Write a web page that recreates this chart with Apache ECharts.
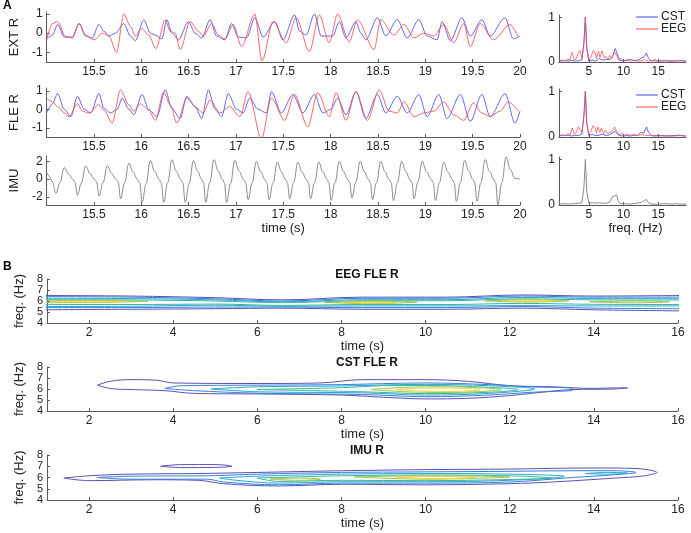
<!DOCTYPE html>
<html><head><meta charset="utf-8">
<script src="https://cdn.jsdelivr.net/npm/echarts@6/dist/echarts.min.js"></script>
<style>html,body{margin:0;padding:0;background:#fff}#c{width:691px;height:533px}</style>
</head><body><div id="c"></div>
<script>
// ---------- DATA ----------
const timeTicks = [15.5,16,16.5,17,17.5,18,18.5,19,19.5,20];
const extTicks = [-1,0,1];
const imuTicks = [-2,0,2];
const specXTicks = [5,10,15];
const specYTicks = [0,1];
const bTimeTicks = [2,4,6,8,10,12,14,16];
const bFreqTicks = [4,5,6,7,8];

const EXT_EEG = [[15.000,-0.35],[15.063,0.5],[15.116,0.6],[15.203,-0.2],[15.273,-0.25],[15.343,0.5],[15.413,-0.1],[15.501,-0.35],[15.588,0],[15.659,-0.15],[15.739,-1.0],[15.816,1.0],[15.886,0.35],[15.938,-0.15],[16.001,0.25],[16.079,-0.1],[16.155,-0.8],[16.253,0.7],[16.306,0.1],[16.358,0],[16.411,-0.85],[16.516,0.6],[16.604,0.1],[16.656,-0.15],[16.744,0.5],[16.814,-0.1],[16.883,-0.3],[16.972,0.45],[17.059,-0.7],[17.199,1.0],[17.275,-1.45],[17.392,0.6],[17.531,-0.5],[17.636,0.8],[17.776,-0.95],[17.881,0.95],[17.986,-0.5],[18.074,1.0],[18.196,-0.45],[18.284,0.7],[18.459,-0.85],[18.529,0.7],[18.669,-0.1],[18.774,0.45],[18.880,-0.25],[18.984,0],[19.089,-0.15],[19.195,0.45],[19.300,-0.5],[19.405,0.5],[19.475,-0.7],[19.580,0.5],[19.720,-0.35],[19.894,0.45],[19.981,-0.2]];
const EXT_CST = [[15.000,-0.3],[15.063,-0.1],[15.116,0.45],[15.186,-0.2],[15.273,-0.2],[15.343,0.5],[15.413,-0.15],[15.483,-0.25],[15.553,0.45],[15.606,0.1],[15.659,-0.15],[15.728,0],[15.816,0.5],[15.886,-0.15],[15.938,-0.4],[16.026,0.7],[16.096,0],[16.148,-0.1],[16.218,-0.3],[16.270,0.7],[16.323,0],[16.393,-0.35],[16.498,0.6],[16.568,0],[16.639,-0.25],[16.726,0.7],[16.796,-0.15],[16.883,-0.35],[16.954,0.5],[17.024,-0.2],[17.112,-0.25],[17.199,0.8],[17.287,-0.2],[17.409,0.6],[17.497,-0.35],[17.619,0.95],[17.672,0.1],[17.742,-0.1],[17.829,1.0],[17.899,-0.15],[18.022,-0.15],[18.092,0.6],[18.162,-0.25],[18.267,0.6],[18.319,0],[18.372,-0.35],[18.494,0.8],[18.582,-0.15],[18.704,0.7],[18.809,-0.25],[18.932,0.7],[19.019,-0.15],[19.124,-0.35],[19.177,0.6],[19.265,-0.4],[19.387,0.8],[19.475,-0.15],[19.598,0.7],[19.685,-0.15],[19.843,0.8],[19.930,-0.3],[20.000,-0.15]];
const FLE_EEG = [[15.000,0.6],[15.063,0.4],[15.116,0.15],[15.186,-0.2],[15.238,-0.4],[15.326,0.3],[15.378,-0.1],[15.448,-0.2],[15.553,0.25],[15.606,-0.05],[15.693,-0.75],[15.781,1.05],[15.868,0.25],[15.921,-0.1],[15.991,0.3],[16.078,-0.05],[16.148,-0.6],[16.236,0.9],[16.306,0.25],[16.376,-0.75],[16.481,0.6],[16.586,0.05],[16.656,-0.2],[16.726,0.5],[16.831,-0.2],[16.936,0.15],[17.041,-0.4],[17.129,0.95],[17.269,-1.6],[17.374,0.6],[17.514,-0.6],[17.619,0.8],[17.759,-0.95],[17.864,0.9],[17.987,-0.4],[18.057,0.9],[18.162,-0.6],[18.267,0.95],[18.390,-0.6],[18.512,1.05],[18.617,-0.1],[18.704,-0.2],[18.775,0.4],[18.880,-0.4],[18.985,-0.2],[19.089,-0.1],[19.195,0.4],[19.300,-0.3],[19.405,-0.6],[19.510,0.35],[19.598,-0.2],[19.685,-0.4],[19.790,-0.1],[19.877,0.4],[19.982,-0.1]];
const FLE_CST = [[15.000,-0.2],[15.063,0.3],[15.116,0.85],[15.186,0],[15.256,-0.4],[15.326,0.7],[15.396,0],[15.466,-0.2],[15.553,0.85],[15.606,0.05],[15.676,-0.2],[15.746,0],[15.799,0.6],[15.869,0],[15.921,-0.3],[16.009,0.8],[16.078,0],[16.166,-0.4],[16.253,1.05],[16.323,0.05],[16.411,-0.5],[16.481,0.7],[16.569,0.15],[16.639,-0.5],[16.709,1.05],[16.779,0],[16.849,-0.4],[16.919,0.85],[17.006,0],[17.076,-0.2],[17.146,0.6],[17.234,0],[17.322,-0.2],[17.374,0.95],[17.479,-0.2],[17.602,0.8],[17.707,-0.2],[17.829,0.8],[17.917,-0.2],[18.004,0],[18.074,0.6],[18.162,-0.3],[18.267,0.95],[18.372,-0.5],[18.494,0.8],[18.582,-0.2],[18.704,0.7],[18.809,-0.2],[18.932,0.8],[19.019,-0.4],[19.142,0.8],[19.230,-0.5],[19.370,0.8],[19.475,-0.65],[19.598,0.8],[19.685,-0.4],[19.843,0.85],[19.947,-0.75],[20.000,-0.1]];
const IMU_SIG = [[15.000,0.8],[15.030,0.3],[15.060,-0.3],
[15.099,-1.6],[15.141,-0.4],[15.186,1.3],[15.231,0.6],[15.276,0.0],[15.300,-0.3],
[15.326,-1.8],[15.368,-0.4],[15.413,1.5],[15.458,0.65],[15.503,0.0],[15.528,-0.3],
[15.554,-1.9],[15.596,-0.4],[15.641,1.5],[15.686,0.65],[15.731,0.0],[15.756,-0.3],
[15.782,-2.2],[15.824,-0.4],[15.869,1.8],[15.914,0.8],[15.959,0.0],[15.984,-0.4],
[16.009,-2.6],[16.051,-0.5],[16.096,2.1],[16.141,0.9],[16.186,0.0],[16.211,-0.4],
[16.237,-2.6],[16.279,-0.4],[16.324,2.2],[16.369,0.9],[16.414,0.0],[16.439,-0.4],
[16.464,-2.6],[16.506,-0.5],[16.551,2.1],[16.596,0.9],[16.636,0.0],[16.658,-0.4],
[16.681,-2.6],[16.723,-0.4],[16.768,2.2],[16.813,0.9],[16.856,0.0],[16.878,-0.4],
[16.901,-2.6],[16.943,-0.5],[16.988,2.1],[17.033,0.9],[17.078,0.0],[17.103,-0.4],
[17.129,-2.3],[17.171,-0.4],[17.216,2.0],[17.261,0.85],[17.304,0.0],[17.326,-0.4],
[17.350,-2.3],[17.392,-0.4],[17.437,1.9],[17.482,0.8],[17.522,0.0],[17.544,-0.4],
[17.567,-2.2],[17.609,-0.4],[17.654,1.9],[17.699,0.8],[17.742,0.0],[17.765,-0.4],
[17.788,-2.2],[17.830,-0.4],[17.875,1.9],[17.920,0.8],[17.960,0.0],[17.982,-0.4],
[18.004,-2.4],[18.046,-0.4],[18.091,2.0],[18.136,0.85],[18.180,0.0],[18.202,-0.4],
[18.225,-2.1],[18.267,-0.3],[18.312,2.0],[18.357,0.85],[18.398,0.0],[18.420,-0.4],
[18.442,-2.3],[18.484,-0.4],[18.529,2.0],[18.574,0.85],[18.618,0.0],[18.640,-0.4],
[18.663,-2.4],[18.705,-0.4],[18.750,2.0],[18.795,0.85],[18.836,0.0],[18.858,-0.4],
[18.880,-2.2],[18.922,-0.3],[18.967,2.0],[19.012,0.85],[19.060,0.0],[19.084,-0.4],
[19.107,-2.4],[19.149,-0.4],[19.194,1.9],[19.239,0.8],[19.282,0.0],[19.305,-0.4],
[19.328,-2.5],[19.370,-0.4],[19.415,2.1],[19.460,0.9],[19.500,0.0],[19.522,-0.4],
[19.545,-2.5],[19.587,-0.4],[19.632,2.2],[19.677,0.9],[19.720,0.0],[19.743,-0.4],
[19.766,-2.9],[19.808,-0.4],[19.853,2.5],[19.898,1.1],[19.945,0.1],[20.000,0.0]];

const SPEC_EXT_EEG = [[0.8,0.03],[1.2,0.04],[1.6,0.03],[2.0,0.06],[2.3,0.05],[2.6,0.22],[2.9,0.05],[3.2,0.08],[3.5,0.2],[3.75,0.26],[4.0,0.08],[4.3,0.4],[4.5,1.0],[4.7,0.35],[5.0,0.05],[5.3,0.1],[5.6,0.25],[5.9,0.22],[6.1,0.08],[6.4,0.24],[6.6,0.1],[6.9,0.25],[7.2,0.1],[7.5,0.12],[7.8,0.06],[8.0,0.15],[8.3,0.08],[8.7,0.22],[9.0,0.15],[9.3,0.05],[9.6,0.08],[10,0.03],[10.5,0.05],[11,0.02],[11.5,0.04],[12,0.02],[12.5,0.03],[13,0.05],[13.5,0.02],[14,0.03],[15,0.02],[16,0.03],[17,0.02],[18,0.03],[19,0.02]];
const SPEC_EXT_CST = [[0.8,0.02],[1.5,0.03],[2,0.02],[2.5,0.04],[3,0.02],[3.5,0.03],[4.0,0.05],[4.3,0.45],[4.5,1.0],[4.7,0.3],[5.0,0.02],[5.5,0.04],[6,0.02],[6.5,0.08],[7,0.04],[7.5,0.06],[8,0.05],[8.4,0.12],[8.8,0.3],[9.1,0.18],[9.4,0.04],[10,0.02],[10.5,0.04],[11,0.06],[11.5,0.03],[12,0.04],[12.5,0.08],[13.0,0.12],[13.3,0.2],[13.6,0.08],[14,0.02],[14.5,0.05],[15,0.02],[16,0.03],[17,0.02],[18,0.03],[19,0.02]];
const SPEC_FLE_EEG = [[0.8,0.03],[1.2,0.05],[1.6,0.03],[2.0,0.07],[2.3,0.04],[2.6,0.2],[2.9,0.06],[3.2,0.1],[3.5,0.22],[3.75,0.25],[4.0,0.1],[4.3,0.45],[4.5,1.0],[4.7,0.3],[5.0,0.06],[5.3,0.12],[5.6,0.25],[5.9,0.2],[6.1,0.08],[6.3,0.22],[6.6,0.1],[6.8,0.2],[7.1,0.08],[7.4,0.15],[7.7,0.08],[8.0,0.1],[8.3,0.12],[8.7,0.22],[9.0,0.12],[9.4,0.05],[9.8,0.08],[10.2,0.04],[10.6,0.06],[11,0.04],[11.5,0.05],[12,0.03],[12.5,0.05],[13,0.04],[13.5,0.03],[14,0.04],[15,0.02],[16,0.03],[17,0.02],[18,0.03],[19,0.02]];
const SPEC_FLE_CST = [[0.8,0.03],[1.5,0.03],[2,0.04],[2.5,0.02],[3,0.04],[3.5,0.03],[4.0,0.06],[4.3,0.5],[4.5,1.0],[4.7,0.3],[5.0,0.03],[5.5,0.06],[6,0.03],[6.5,0.04],[7,0.06],[7.5,0.03],[8,0.05],[8.5,0.1],[8.8,0.12],[9.2,0.05],[9.6,0.03],[10,0.02],[10.5,0.03],[11,0.02],[11.5,0.04],[12,0.03],[12.5,0.1],[12.9,0.08],[13.3,0.22],[13.6,0.1],[14,0.03],[14.5,0.02],[15,0.04],[16,0.02],[17,0.03],[18,0.04],[19,0.02]];
const SPEC_IMU = [[0.8,0.02],[1.5,0.03],[2,0.02],[2.5,0.03],[3,0.03],[3.5,0.04],[4.0,0.05],[4.3,0.4],[4.5,1.0],[4.7,0.3],[5.0,0.04],[5.5,0.05],[6,0.04],[6.5,0.05],[7,0.04],[7.5,0.04],[8,0.06],[8.4,0.18],[8.7,0.2],[9.0,0.22],[9.2,0.1],[9.5,0.03],[10,0.03],[11,0.02],[12,0.04],[12.6,0.06],[13,0.1],[13.3,0.12],[13.6,0.05],[14,0.02],[15,0.02],[16,0.03],[17,0.02],[17.5,0.03],[18,0.02],[19,0.02]];

// contour lines: [level, [[time, freq], ...]]
const EEG_CONTOURS = [
 [0, [[0.9,6.5],[3,6.45],[5,6.3],[6.6,6.1],[8.5,6.35],[10.5,6.35],[12.3,6.55],[14,6.45],[16.1,6.5],[16.1,5.1],[14,5.2],[12.3,5.35],[10.5,5.25],[8.5,5.25],[6.6,5.35],[5,5.3],[3,5.25],[0.9,5.2],[0.9,6.5]]],
 [1, [[0.9,6.4],[3,6.35],[5,6.2],[6.6,6.0],[8.5,6.25],[10.5,6.25],[12.3,6.45],[14,6.35],[16.1,6.35],[16.1,5.3],[14,5.35],[12.3,5.5],[10.5,5.4],[8.5,5.4],[6.6,5.45],[5,5.45],[3,5.4],[0.9,5.4],[0.9,6.4]]],
 [2, [[0.9,6.25],[3,6.22],[5,6.1],[6.6,5.92],[8.5,6.12],[10.5,6.12],[12.3,6.32],[14,6.22],[16.1,6.2],[16.1,5.55],[14,5.55],[12.3,5.58],[10.5,5.55],[8.5,5.55],[6.6,5.52],[5,5.62],[3,5.52],[0.9,5.5],[0.9,6.25]]],
 [3, [[0.9,6.12],[3,6.1],[5,6.0],[6.6,5.85],[8.5,6.02],[10.5,6.02],[12.3,6.2],[14,6.1],[16.1,6.08],[16.1,5.68],[14,5.7],[12.3,5.78],[10.5,5.68],[8.5,5.68],[6.6,5.6],[5,5.72],[3,5.68],[0.9,5.7],[0.9,6.12]]],
 [4, [[0.9,6.02],[2,6.03],[3.4,5.98],[2,5.86],[0.9,5.85],[0.9,6.02]]],
 [4, [[7.6,5.88],[8.6,5.95],[9.8,5.9],[8.6,5.76],[7.6,5.88]]],
 [4, [[11.4,6.02],[12.4,6.1],[13.4,6.02],[12.4,5.9],[11.4,6.02]]],
 [4, [[13.9,5.93],[14.9,5.99],[15.8,5.93],[14.9,5.83],[13.9,5.93]]],
 [5, [[1.1,5.96],[2,5.99],[2.8,5.95],[2,5.9],[1.1,5.96]]],
 [5, [[8.1,5.87],[8.7,5.91],[9.3,5.86],[8.7,5.81],[8.1,5.87]]],
 [5, [[12.0,6.02],[12.5,6.06],[13.0,6.01],[12.5,5.96],[12.0,6.02]]]
];
const CST_CONTOURS = [
 [0, [[2.2,6.35],[2.5,6.7],[3,6.85],[3.6,6.8],[4,6.55],[6,6.5],[7.5,6.55],[8.5,6.85],[10,6.85],[11,6.7],[12,6.3],[13,6.2],[14,6.05],[14.5,6.1],[14.8,6.1],[14.5,6.0],[13.5,5.95],[12.5,5.6],[12,5.4],[11,5.15],[10,5.1],[9,5.25],[8,5.45],[6,5.55],[4.5,5.6],[3.8,5.85],[3,5.95],[2.5,6.05],[2.2,6.35]]],
 [1, [[3.8,6.05],[4.2,6.3],[6,6.35],[8,6.4],[10,6.55],[11.5,6.4],[12.5,6.2],[13.5,6.05],[13.5,5.9],[12.5,5.7],[11.5,5.45],[10,5.3],[8.5,5.5],[6,5.62],[4.5,5.85],[3.8,6.05]]],
 [2, [[4.9,6.0],[6,6.2],[8,6.28],[10,6.42],[11.5,6.3],[12.6,6.0],[11.5,5.6],[10,5.45],[8.5,5.65],[6,5.75],[4.9,6.0]]],
 [3, [[6,5.95],[8,6.12],[9,6.3],[10,6.32],[11.5,6.15],[12.2,5.95],[11.5,5.7],[10,5.58],[8.5,5.75],[6,5.95]]],
 [4, [[8.7,5.95],[9.5,6.15],[10.5,6.2],[11.8,5.95],[10.5,5.68],[9.5,5.75],[8.7,5.95]]],
 [5, [[9.3,5.95],[10,6.08],[10.7,6.08],[11.3,5.95],[10.7,5.78],[10,5.8],[9.3,5.95]]]
];
const IMU_CONTOURS = [
 [0, [[1.4,5.95],[2,6.15],[3,6.3],[4.5,6.35],[6,6.45],[8,6.6],[10,6.7],[12,6.75],[14,6.85],[15,6.8],[15.5,6.45],[15.2,6.15],[14.5,5.95],[13,5.6],[12,5.45],[10,5.35],[8,5.4],[6.5,5.25],[5.2,5.45],[4.6,5.75],[3.5,5.8],[2,5.72],[1.4,5.95]]],
 [0, [[3.7,7.0],[4.2,7.15],[5.0,7.15],[5.4,7.0],[5.0,6.9],[4.2,6.88],[3.7,7.0]]],
 [1, [[2.2,6.0],[3,6.12],[4.8,6.15],[6,6.3],[8,6.45],[10,6.5],[12,6.55],[13.5,6.6],[14.5,6.6],[15,6.45],[14.5,6.25],[13.5,6.0],[12,5.6],[10,5.5],[8,5.5],[6.5,5.35],[5.2,5.6],[4.8,5.85],[3,5.85],[2.2,6.0]]],
 [2, [[5.1,5.95],[6,6.12],[8,6.3],[10,6.35],[12,6.3],[13.3,6.1],[12,5.75],[10,5.62],[8,5.62],[6.5,5.5],[5.5,5.75],[5.1,5.95]]],
 [2, [[13.8,6.35],[14.3,6.45],[14.8,6.4],[14.3,6.3],[13.8,6.35]]],
 [3, [[6,5.95],[8,6.15],[10,6.22],[12,6.15],[13,5.95],[12,5.82],[10,5.72],[8,5.75],[6.5,5.65],[6,5.95]]],
 [4, [[6.3,5.85],[7,5.95],[7.5,5.85],[7,5.75],[6.3,5.85]]],
 [4, [[8.3,6.05],[10,6.15],[12,6.05],[10,5.85],[8.3,6.05]]],
 [5, [[9.3,6.0],[10.2,6.1],[11.2,6.0],[10.2,5.9],[9.3,6.0]]]
];

// ---------- STYLE ----------
const LEVEL_COLORS = ['#5752b5','#3a7fd8','#25a8d4','#35b79c','#a0c548','#f2d438'];
const BLUE = '#4b4bef', RED = '#f04f4f', GRAY = '#8c8c8c';
const FONT = 'Liberation Sans, Arial, sans-serif';
const AX = '#5a5a5a', TXT = '#222';

function xAx(gi, min, max, ticks, name, gap, pad) {
  return { type:'value', gridIndex: gi, min, max,
    axisLine:{show:true, onZero:false, lineStyle:{color:AX,width:1}},
    axisTick:{show:true, inside:true, length:3, interval:0, customValues:ticks, lineStyle:{color:AX}},
    axisLabel:{customValues:ticks, interval:0, showMinLabel:true, showMaxLabel:true, color:TXT, fontSize:12, fontFamily:FONT, margin:4, hideOverlap:false},
    splitLine:{show:false},
    name: name || '', nameLocation:'middle', nameGap: gap || 16,
    nameTextStyle:{color:TXT, fontSize:13, fontFamily:FONT, padding: pad || 0}
  };
}
function yAx(gi, min, max, ticks, name, gap, fs) {
  return { type:'value', gridIndex: gi, min, max,
    axisLine:{show:true, onZero:false, lineStyle:{color:AX,width:1}},
    axisTick:{show:true, inside:true, length:3, interval:0, customValues:ticks, lineStyle:{color:AX}},
    axisLabel:{customValues:ticks, interval:0, showMinLabel:true, showMaxLabel:true, color:TXT, fontSize:fs || 12, lineHeight: fs || 12, fontFamily:FONT, margin:4, hideOverlap:false},
    splitLine:{show:false},
    name: name || '', nameLocation:'middle', nameGap: gap || 24, nameRotate:90,
    nameTextStyle:{color:TXT, fontSize:13, fontFamily:FONT}
  };
}
function lineS(name, gi, data, color, smooth, opacity) {
  return { type:'line', name, xAxisIndex:gi, yAxisIndex:gi, data, symbol:'none',
    smooth: smooth || false, smoothMonotone: smooth ? 'x' : undefined,
    lineStyle:{color, width:1, opacity: opacity || 1}, itemStyle:{color}, clip:true, silent:true };
}
function contourSeries(gi, list) {
  return list.map(([lv, pts]) => ({ type:'line', xAxisIndex:gi, yAxisIndex:gi, data: pts,
    symbol:'none', smooth:0.35, lineStyle:{color:LEVEL_COLORS[lv], width:1}, clip:true, silent:true }));
}

const grids = [
  {left:44, top:12, width:476, height:50},
  {left:44, top:88, width:476, height:49},
  {left:44, top:156, width:476, height:49},
  {left:559, top:15, width:127, height:47},
  {left:559, top:89, width:127, height:48},
  {left:559, top:157, width:127, height:48},
  {left:47, top:279, width:631, height:44},
  {left:47, top:367, width:631, height:44},
  {left:47, top:455, width:631, height:45}
];

const option = {
  animation:false,
  backgroundColor:'#fff',
  textStyle:{fontFamily:FONT},
  grid: grids.map(g => Object.assign({containLabel:false}, g)),
  xAxis: [
    xAx(0,15,20,timeTicks), xAx(1,15,20,timeTicks), xAx(2,15,20,timeTicks,'time (s)',16),
    xAx(3,0.7,19,specXTicks), xAx(4,0.7,19,specXTicks), xAx(5,0.7,19,specXTicks,'freq. (Hz)',16,[0,0,0,26]),
    xAx(6,1,16,bTimeTicks,'time (s)',16), xAx(7,1,16,bTimeTicks,'time (s)',16), xAx(8,1,16,bTimeTicks,'time (s)',16)
  ],
  yAxis: [
    yAx(0,-1.5,1.1,extTicks,'EXT R',16), yAx(1,-1.5,1.15,extTicks,'FLE R',16), yAx(2,-2.9,2.6,imuTicks,'IMU',16),
    yAx(3,0,1.05,specYTicks), yAx(4,0,1.05,specYTicks), yAx(5,0,1.05,specYTicks),
    yAx(6,4,8,bFreqTicks,'freq. (Hz)',14,11), yAx(7,4,8,bFreqTicks,'freq. (Hz)',14,11), yAx(8,4,8,bFreqTicks,'freq. (Hz)',14,11)
  ],
  legend: [
    {left:631, top:6, orient:'vertical', itemGap:0, itemWidth:22, itemHeight:1, icon:'rect',
     textStyle:{color:TXT, fontSize:12, fontFamily:FONT, lineHeight:11, padding:[0,0,0,-2]}, data:['CST','EEG'], selectedMode:false},
    {left:631, top:84, orient:'vertical', itemGap:0, itemWidth:22, itemHeight:1, icon:'rect',
     textStyle:{color:TXT, fontSize:12, fontFamily:FONT, lineHeight:11, padding:[0,0,0,-2]}, data:['CST','EEG'], selectedMode:false}
  ],
  title: [
    {text:'EEG FLE R', left:362, top:264, textAlign:'center', textStyle:{fontSize:12, fontWeight:'bold', color:'#111', fontFamily:FONT}},
    {text:'CST FLE R', left:362, top:352, textAlign:'center', textStyle:{fontSize:12, fontWeight:'bold', color:'#111', fontFamily:FONT}},
    {text:'IMU R', left:362, top:440, textAlign:'center', textStyle:{fontSize:12, fontWeight:'bold', color:'#111', fontFamily:FONT}}
  ],
  graphic: [
    {type:'text', left:3, top:0, style:{text:'A', font:'bold 12px '+FONT, fill:'#000'}},
    {type:'text', left:3, top:261, style:{text:'B', font:'bold 12px '+FONT, fill:'#000'}}
  ],
  series: [
    lineS('CST',0,EXT_CST,BLUE,0.3,0.85), lineS('EEG',0,EXT_EEG,RED,0.3,0.85),
    lineS('CST',1,FLE_CST,BLUE,0.3,0.85), lineS('EEG',1,FLE_EEG,RED,0.3,0.85),
    lineS('IMU',2,IMU_SIG,GRAY,0.4),
    lineS('CST',3,SPEC_EXT_CST,BLUE,false,0.85), lineS('EEG',3,SPEC_EXT_EEG,RED,false,0.75),
    lineS('CST',4,SPEC_FLE_CST,BLUE,false,0.85), lineS('EEG',4,SPEC_FLE_EEG,RED,false,0.75),
    lineS('IMU spec',5,SPEC_IMU,GRAY,false)
  ].concat(contourSeries(6,EEG_CONTOURS), contourSeries(7,CST_CONTOURS), contourSeries(8,IMU_CONTOURS))
};

const chart = echarts.init(document.getElementById('c'), null, {renderer:'canvas'});
chart.setOption(option);
</script>
</body></html>
